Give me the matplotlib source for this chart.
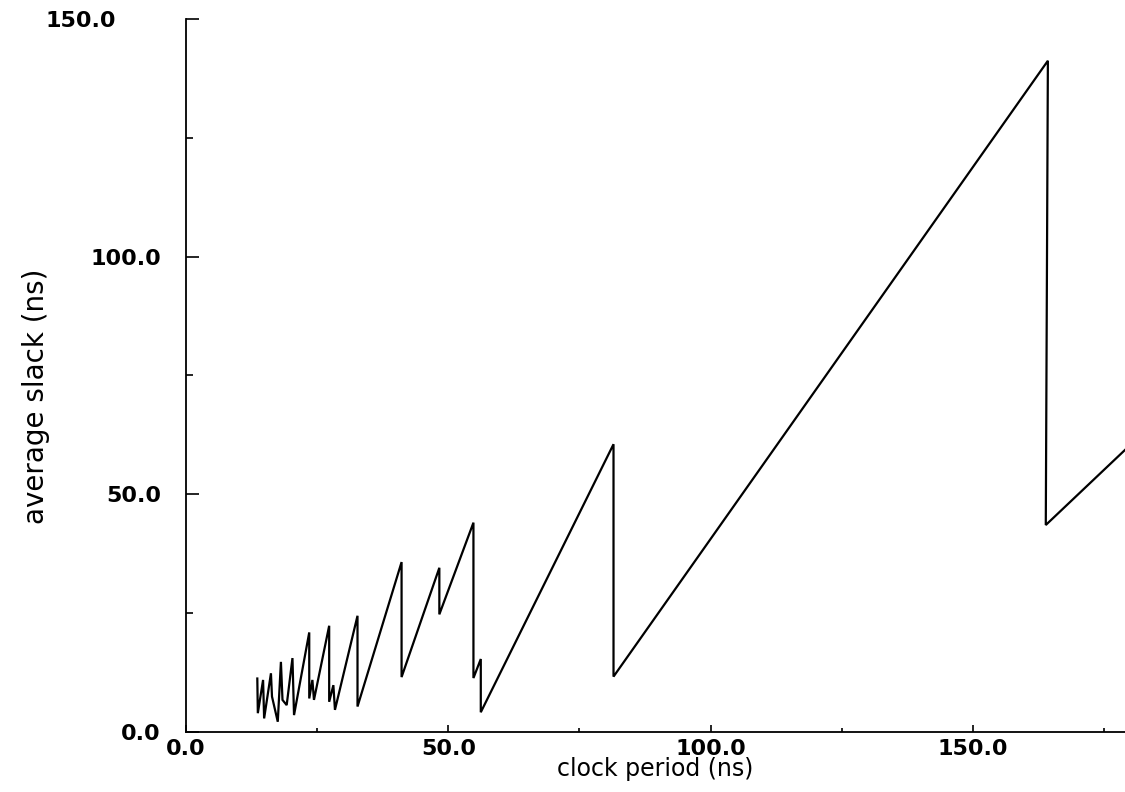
import matplotlib.pyplot as plt
from matplotlib.ticker import MultipleLocator, FormatStrFormatter
from matplotlib.transforms import ScaledTranslation

# ── Data ───────────────────────────────────────────────────────
clock_period = [13.6, 13.7, 14.7, 14.9, 16.2, 16.4, 17.5, 18.1, 18.4, 19.2,
                20.3, 20.6, 23.5, 23.5, 24.1, 24.4, 27.3, 27.3, 28.1, 28.4,
                32.7, 32.7, 41.1, 41.1, 48.3, 48.3, 54.8, 54.8, 56.2, 56.2,
                81.5, 81.5, 164.3, 163.9, 179.0]
avg_slack = [11.2, 3.9, 10.9, 2.8, 12.3, 7.4, 2.1, 14.7, 6.7, 5.6,
             15.5, 3.5, 20.9, 7.0, 10.9, 6.7, 22.3, 6.3, 9.8, 4.6,
             24.4, 5.3, 35.7, 11.5, 34.5, 24.7, 44.0, 11.3, 15.3, 4.1,
             60.5, 11.6, 141.2, 43.5, 59.3]

XMAX = 179.0
YMAX = 150.0

# ── Figure ─────────────────────────────────────────────────────
fig = plt.figure(figsize=(11.25, 7.92), dpi=100)
ax = fig.add_axes([0.1653, 0.0761, 1.0 - 0.1653, 0.9])

ax.plot(clock_period, avg_slack, color="black", lw=1.6, solid_joinstyle="miter")

ax.set_xlim(0, XMAX)
ax.set_ylim(0, YMAX)
ax.spines[["top", "right"]].set_visible(False)
ax.spines[["left", "bottom"]].set_linewidth(1.3)

ax.xaxis.set_major_locator(MultipleLocator(50))
ax.xaxis.set_minor_locator(MultipleLocator(25))
ax.yaxis.set_major_locator(MultipleLocator(50))
ax.yaxis.set_minor_locator(MultipleLocator(25))
ax.xaxis.set_major_formatter(FormatStrFormatter("%.1f"))
ax.yaxis.set_major_formatter(FormatStrFormatter("%.1f"))

ax.tick_params(axis="x", which="major", direction="in", length=5, width=1.2, pad=5)
ax.tick_params(axis="x", which="minor", direction="in", length=3, width=1.2)
ax.tick_params(axis="y", which="major", direction="in", length=9, width=1.2, pad=18)
ax.tick_params(axis="y", which="minor", direction="in", length=5, width=1.2)

for lab in ax.get_xticklabels() + ax.get_yticklabels():
    lab.set_fontsize(16)
    lab.set_fontweight("bold")

# top y label sits further left in the original
fig.canvas.draw()
for lab in ax.get_yticklabels():
    if lab.get_text() == "150.0":
        lab.set_transform(lab.get_transform() + ScaledTranslation(-0.45, 0, fig.dpi_scale_trans))

ax.set_xlabel("clock period (ns)", fontsize=17, labelpad=-1)
ax.set_ylabel("average slack (ns)", fontsize=20,
              family=["Liberation Sans Narrow", "DejaVu Sans"])
ax.yaxis.set_label_coords(-0.145, 0.47)

plt.savefig("out.png", dpi=100)
